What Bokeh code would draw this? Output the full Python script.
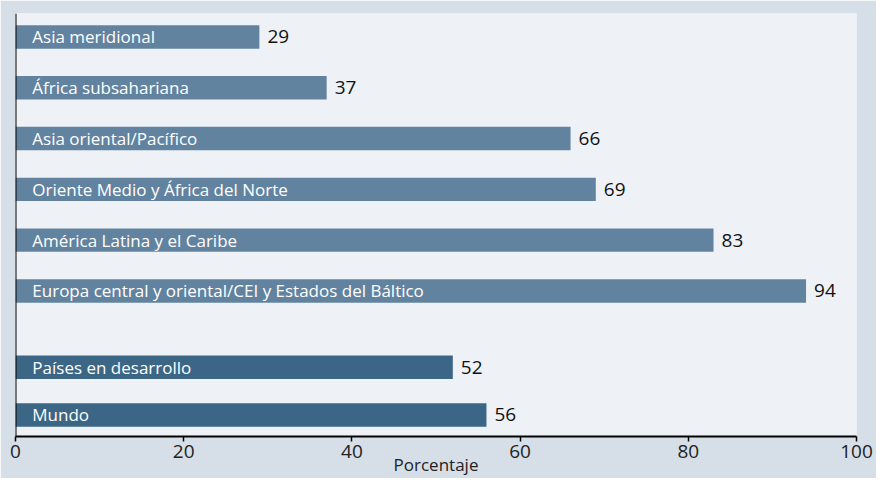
from bokeh.plotting import figure
from bokeh.models import Range1d, Span, ColumnDataSource, FixedTicker
from bokeh.core.properties import value
from bokeh.embed import file_html
from bokeh.resources import INLINE

regions = ["Asia meridional", "África subsahariana", "Asia oriental/Pacífico",
           "Oriente Medio y África del Norte", "América Latina y el Caribe",
           "Europa central y oriental/CEI y Estados del Báltico"]
region_values = [29, 37, 66, 69, 83, 94]
totals = ["Países en desarrollo", "Mundo"]
total_values = [52, 56]
x_ticks = [0, 20, 40, 60, 80, 100]
x_label = "Porcentaje"

FONT = "Open Sans"
OUTER_BG = "#d6dee7"
INNER_BG = "#eef2f7"
C_REG = "#62839f"
C_TOT = "#3c6685"

# layout: slot positions (1 unit = one bar spacing)
pos_reg = [float(i) for i in range(len(regions))]
pos_tot = [len(regions) - 1 + 1.5, len(regions) - 1 + 1.5 + 0.94]

src_reg = ColumnDataSource(dict(y=pos_reg, v=region_values, name=regions,
                                lab=[str(v) for v in region_values]))
src_tot = ColumnDataSource(dict(y=pos_tot, v=total_values, name=totals,
                                lab=[str(v) for v in total_values]))

p = figure(width=876, height=478, output_backend="svg", toolbar_location=None,
           x_range=Range1d(0, 100), y_range=Range1d(7.865, -0.4615),
           min_border_left=15, min_border_right=20, min_border_top=13,
           min_border_bottom=41)
p.background_fill_color = INNER_BG
p.border_fill_color = OUTER_BG
p.outline_line_color = None
p.grid.visible = False
p.yaxis.visible = False

bh = 0.4615
p.hbar(y="y", left=0, right="v", height=bh, source=src_reg, color=C_REG, line_color=None)
p.hbar(y="y", left=0, right="v", height=bh, source=src_tot, color=C_TOT, line_color=None)

for s in (src_reg, src_tot):
    p.text(x=2, y="y", text="name", source=s, text_color="white",
           text_font=value(FONT), text_font_size="17px", text_baseline="middle",
           text_align="left")
    p.text(x="v", y="y", text="lab", source=s, x_offset=8, text_color="#111111",
           text_font=value(FONT), text_font_size="19px", text_baseline="middle",
           text_align="left")

p.add_layout(Span(location=0, dimension="height", line_color="black", line_width=2))

ax = p.xaxis[0]
ax.ticker = FixedTicker(ticks=x_ticks)
ax.axis_line_color = "black"
ax.axis_line_width = 2
ax.major_tick_line_color = "black"
ax.major_tick_line_width = 1.5
ax.major_tick_out = 5
ax.major_tick_in = 0
ax.minor_tick_line_color = None
ax.major_label_text_font = FONT
ax.major_label_text_font_size = "19px"
ax.major_label_text_color = "#222222"
ax.major_label_standoff = 3
ax.axis_label = x_label
ax.axis_label_text_font = FONT
ax.axis_label_text_font_size = "17px"
ax.axis_label_text_font_style = "normal"
ax.axis_label_text_color = "#222222"
ax.axis_label_standoff = -8

html = file_html(p, INLINE)
html = html.replace("<body>", '<body style="background-color:%s;">' % OUTER_BG, 1)
open("out.html", "w").write(html)
